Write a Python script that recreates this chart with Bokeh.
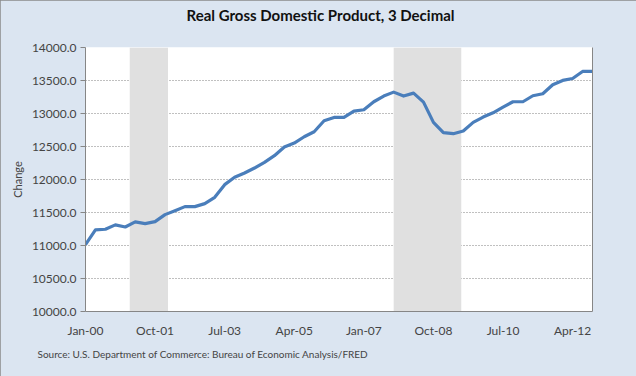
from bokeh.plotting import figure
from bokeh.models import (FixedTicker, NumeralTickFormatter, Range1d, Title,
                          LinearAxis)
from bokeh.embed import file_html
from bokeh.resources import INLINE

# Quarterly, Jan-00 (2000Q1) .. Oct-12 (2012Q4)
quarters = [f"{m}-{y:02d}" for y in range(0, 13) for m in ("Jan", "Apr", "Jul", "Oct")]
gdp = [11014, 11236, 11246, 11312, 11281, 11357, 11332, 11362,
       11468, 11528, 11589, 11589, 11634, 11730, 11922, 12033,
       12098, 12174, 12260, 12361, 12492, 12552, 12648, 12724,
       12890, 12941, 12941, 13037, 13057, 13178, 13264, 13324,
       13264, 13309, 13173, 12865, 12709, 12694, 12734, 12865,
       12946, 13011, 13097, 13178, 13178, 13269, 13299, 13435,
       13501, 13531, 13637, 13637]
# Recession shading, in quarter-index positions
rec_start = [4.45, 31.0]
rec_end = [8.3, 37.8]
tick_idx = [0, 7, 14, 21, 28, 35, 42, 49]

xs = list(range(len(gdp)))
FONT = "Lato"
BG = "#DBE5F1"

p = figure(width=636, height=376, output_backend="svg", toolbar_location=None,
           x_range=Range1d(0, len(gdp) - 1), y_range=Range1d(10000, 14000),
           min_border_left=85, min_border_right=44, min_border_top=47,
           min_border_bottom=65)
p.background_fill_color = "white"
p.border_fill_color = BG
p.outline_line_color = None
p.styles = {"outline": "1px solid #8a8a8a", "outline-offset": "-1px"}

p.quad(left=rec_start, right=rec_end, bottom=10000, top=14000,
       fill_color="#E0E0E0", line_color=None)
p.line(xs, gdp, line_color="#4A7EBB", line_width=3.2, line_join="round")

# axes
xa = p.xaxis[0]
xa.ticker = FixedTicker(ticks=tick_idx)
xa.major_label_overrides = {i: quarters[i] for i in tick_idx}
xa.major_tick_line_color = None
xa.minor_tick_line_color = None
xa.axis_line_color = "#868686"
xa.major_label_text_font = FONT
xa.major_label_text_font_size = "12px"
xa.major_label_standoff = 5

ya = p.yaxis[0]
ya.ticker = FixedTicker(ticks=list(range(10000, 14001, 500)))
ya.formatter = NumeralTickFormatter(format="0.0")
ya.axis_line_color = "#868686"
ya.major_tick_line_color = "#868686"
ya.major_tick_out = 5
ya.major_tick_in = 0
ya.minor_tick_line_color = None
ya.major_label_text_font = FONT
ya.major_label_text_font_size = "12px"
ya.major_label_standoff = 4
ya.axis_label = "Change"
ya.axis_label_text_font = FONT
ya.axis_label_text_font_size = "11px"
ya.axis_label_text_font_style = "normal"
ya.axis_label_standoff = 5

ra = LinearAxis(major_label_text_font_size="0px", major_tick_line_color=None,
                minor_tick_line_color=None, axis_line_color="#868686",
                ticker=FixedTicker(ticks=[]))
p.add_layout(ra, "right")

p.xgrid.grid_line_color = None
p.ygrid.grid_line_color = "#808080"
p.ygrid.grid_line_dash = "1 2"
p.ygrid.ticker = FixedTicker(ticks=list(range(10500, 14001, 500)))

# spacer panel between frame and title, then the title further out
p.add_layout(Title(text=" ", text_font_size="1px", standoff=20), "above")
p.add_layout(Title(text="Real Gross Domestic Product, 3 Decimal", align="left",
                   text_font=FONT, text_font_size="15px", text_font_style="bold",
                   text_color="#111111", offset=101, standoff=2), "above")
p.add_layout(Title(text="Source: U.S. Department of Commerce: Bureau of Economic Analysis/FRED",
                   align="left", text_font=FONT, text_font_size="10px",
                   text_font_style="normal", offset=-48), "below")

open("out.html", "w").write(file_html(p, INLINE))
